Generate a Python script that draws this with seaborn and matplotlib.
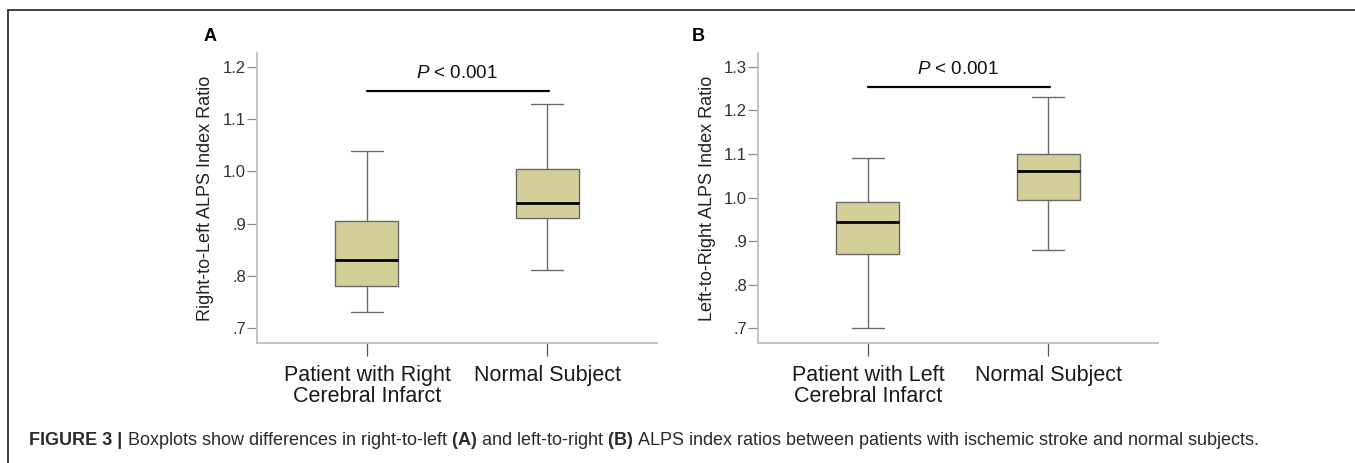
import pandas as pd
import seaborn as sns
import matplotlib.pyplot as plt
from matplotlib.lines import Line2D

# five-number summaries: min, Q1, median, Q3, max
groups_a = ['Patient with Right\nCerebral Infarct', 'Normal Subject']
patient_right = [0.73, 0.78, 0.83, 0.905, 1.04]
normal_a = [0.811, 0.91, 0.94, 1.005, 1.13]

groups_b = ['Patient with Left\nCerebral Infarct', 'Normal Subject']
patient_left = [0.70, 0.87, 0.945, 0.99, 1.09]
normal_b = [0.88, 0.995, 1.06, 1.10, 1.23]

yticks_a = [0.7, 0.8, 0.9, 1.0, 1.1, 1.2]
ytick_labels_a = ['.7', '.8', '.9', '1.0', '1.1', '1.2']
yticks_b = [0.7, 0.8, 0.9, 1.0, 1.1, 1.2, 1.3]
ytick_labels_b = ['.7', '.8', '.9', '1.0', '1.1', '1.2', '1.3']

ylabel_a = 'Right-to-Left ALPS Index Ratio'
ylabel_b = 'Left-to-Right ALPS Index Ratio'
p_label = '$\\it{P}$ < 0.001'
caption_bold = 'FIGURE 3 |'
caption_rest = ('Boxplots show differences in right-to-left $\\bf{(A)}$ and left-to-right '
                '$\\bf{(B)}$ ALPS index ratios between patients with ischemic stroke and normal subjects.')

sns.set_theme(style='ticks')
plt.rcParams['font.family'] = ['Liberation Sans', 'DejaVu Sans']
plt.rcParams['mathtext.fontset'] = 'custom'
plt.rcParams['mathtext.rm'] = 'Liberation Sans'
plt.rcParams['mathtext.it'] = 'Liberation Sans:italic'
plt.rcParams['mathtext.bf'] = 'Liberation Sans:bold'

box_fill = '#d4cf99'
line_col = '#6a6a6a'
axis_col = '#c4c4c4'


def make_frame(groups, first, second):
    return pd.DataFrame({
        'group': [groups[0]] * len(first) + [groups[1]] * len(second),
        'value': first + second,
    })


def draw_panel(ax, df, groups, ylim, yticks, yticklabels, ylabel, sig_y, txt_y, label_x):
    sns.boxplot(data=df, x='group', y='value', order=groups, whis=(0, 100),
                width=0.35, color=box_fill, saturation=1, linecolor=line_col,
                linewidth=1, medianprops=dict(color='black', linewidth=2),
                ax=ax)
    ax.set_xlim(-0.611, 1.611)
    ax.set_ylim(*ylim)
    ax.set_yticks(yticks)
    ax.set_yticklabels(yticklabels)
    ax.set_xlabel('')
    ax.set_ylabel(ylabel, fontsize=13, color='#222222')
    ax.yaxis.set_label_coords(label_x, 0.5)
    for side in ['top', 'right']:
        ax.spines[side].set_visible(False)
    for side in ['left', 'bottom']:
        ax.spines[side].set_color(axis_col)
        ax.spines[side].set_linewidth(1.4)
    ax.tick_params(axis='y', length=7.5, width=0.9, color='#8a8a8a',
                   labelsize=12, labelcolor='#333333', pad=0.5)
    ax.tick_params(axis='x', length=9.5, width=0.9, color='#555555',
                   labelsize=15.5, labelcolor='#1a1a1a', pad=6)
    for t in ax.get_xticklabels():
        t.set_linespacing(1.0)
    # significance bar
    ax.plot([0, 1.01], [sig_y, sig_y], color='black', linewidth=1.6)
    ax.text(0.5, txt_y, p_label, ha='center', va='center', fontsize=13.5,
            color='#111111')


fig = plt.figure(figsize=(13.55, 4.63), dpi=100)
ax_a = fig.add_axes([257 / 1355, 120 / 463, 400 / 1355, 290 / 463])
ax_b = fig.add_axes([758 / 1355, 120 / 463, 400 / 1355, 290 / 463])

draw_panel(ax_a, make_frame(groups_a, patient_right, normal_a), groups_a,
           (0.671, 1.227), yticks_a, ytick_labels_a, ylabel_a, 1.1535, 1.187, -0.107)
draw_panel(ax_b, make_frame(groups_b, patient_left, normal_b), groups_b,
           (0.666, 1.332), yticks_b, ytick_labels_b, ylabel_b, 1.253, 1.293, -0.105)

# panel letters
fig.text(210 / 1355, 1 - 41 / 463, 'A', fontsize=13, fontweight='bold',
         ha='center', va='baseline', color='black')
fig.text(698 / 1355, 1 - 41 / 463, 'B', fontsize=13, fontweight='bold',
         ha='center', va='baseline', color='black')

# figure frame (top and left rule)
fig.add_artist(Line2D([8 / 1355, 1], [1 - 9.5 / 463, 1 - 9.5 / 463],
                      transform=fig.transFigure, color='#1e1e1e', linewidth=1.2))
fig.add_artist(Line2D([8 / 1355, 8 / 1355], [0, 1 - 9.5 / 463],
                      transform=fig.transFigure, color='#1e1e1e', linewidth=1.2))

# caption
cap_y = 1 - 445 / 463
t1 = fig.text(29 / 1355, cap_y, caption_bold, fontsize=13, fontweight='bold',
              color='#2a2a2a', va='baseline', ha='left')
renderer = fig.canvas.get_renderer()
bb = t1.get_window_extent(renderer)
x_next = (bb.x1 + 5) / fig.bbox.width
fig.text(x_next, cap_y, caption_rest, fontsize=13, color='#2a2a2a',
         va='baseline', ha='left')

fig.savefig('out.png', dpi=100)
